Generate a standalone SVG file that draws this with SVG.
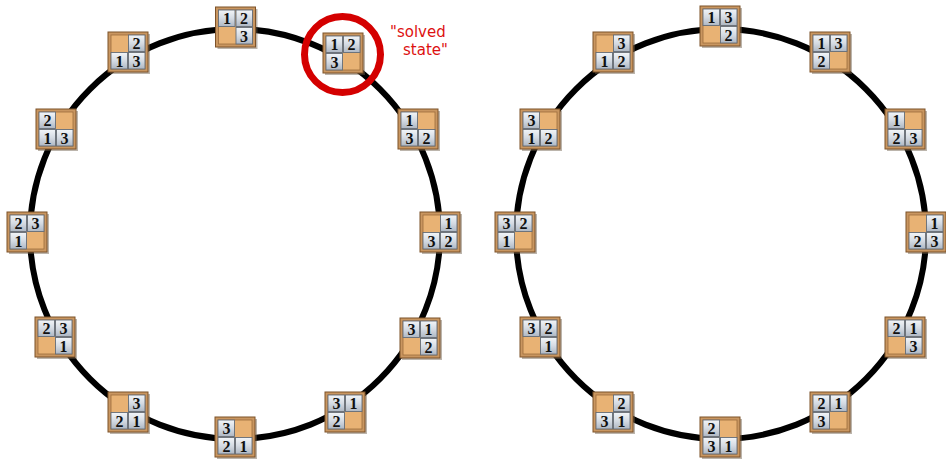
<svg xmlns="http://www.w3.org/2000/svg" xmlns:xlink="http://www.w3.org/1999/xlink" width="946" height="459" viewBox="0 0 946 459">
<style>
.ring{fill:none;stroke:#000;stroke-width:6}
.num{font-family:"Liberation Serif","DejaVu Serif",serif;font-size:16px;font-weight:bold;fill:#111;text-anchor:middle}
.lbl{font-family:"DejaVu Sans","Noto Sans",sans-serif;font-size:15px;fill:#dd1111}
</style>
<defs>
<linearGradient id="cg" x1="0" y1="0" x2="0" y2="1">
<stop offset="0" stop-color="#f2f5f8"/>
<stop offset="0.5" stop-color="#d5dbe3"/>
<stop offset="1" stop-color="#aeb7c3"/>
</linearGradient>
<g id="frame">
<rect x="-18" y="-18" width="40" height="40" fill="#6b5a48" opacity="0.45"/>
<rect x="-20" y="-20" width="40" height="40" fill="#c99660" stroke="#7d5229" stroke-width="1"/>
<rect x="-17" y="-17" width="34" height="34" fill="#e8b274" stroke="#9c6c3c" stroke-width="0.8"/>
</g>
<rect id="cell" width="16.5" height="16.5" fill="url(#cg)" stroke="#646d78" stroke-width="0.9"/>
</defs>

<g id="connectors">
<circle class="ring" cx="235" cy="234" r="205"/>
<circle class="ring" cx="721" cy="234" r="205"/>
</g>

<!-- left ring -->
<g id="L0" transform="translate(235.5,27)"><use href="#frame"/><use href="#cell" x="-17" y="-17"/><use href="#cell" x="0.5" y="-17"/><use href="#cell" x="0.5" y="0.5"/><text class="num" x="-8.5" y="-3">1</text><text class="num" x="8.5" y="-3">2</text><text class="num" x="8.5" y="14.5">3</text></g>
<g id="L1" transform="translate(343,53)"><use href="#frame"/><use href="#cell" x="-17" y="-17"/><use href="#cell" x="0.5" y="-17"/><use href="#cell" x="-17" y="0.5"/><text class="num" x="-8.5" y="-3">1</text><text class="num" x="8.5" y="-3">2</text><text class="num" x="-8.5" y="14.5">3</text></g>
<g id="L2" transform="translate(418,129)"><use href="#frame"/><use href="#cell" x="-17" y="-17"/><use href="#cell" x="-17" y="0.5"/><use href="#cell" x="0.5" y="0.5"/><text class="num" x="-8.5" y="-3">1</text><text class="num" x="-8.5" y="14.5">3</text><text class="num" x="8.5" y="14.5">2</text></g>
<g id="L3" transform="translate(440,232)"><use href="#frame"/><use href="#cell" x="0.5" y="-17"/><use href="#cell" x="-17" y="0.5"/><use href="#cell" x="0.5" y="0.5"/><text class="num" x="8.5" y="-3">1</text><text class="num" x="-8.5" y="14.5">3</text><text class="num" x="8.5" y="14.5">2</text></g>
<g id="L4" transform="translate(420,338)"><use href="#frame"/><use href="#cell" x="-17" y="-17"/><use href="#cell" x="0.5" y="-17"/><use href="#cell" x="0.5" y="0.5"/><text class="num" x="-8.5" y="-3">3</text><text class="num" x="8.5" y="-3">1</text><text class="num" x="8.5" y="14.5">2</text></g>
<g id="L5" transform="translate(345,412)"><use href="#frame"/><use href="#cell" x="-17" y="-17"/><use href="#cell" x="0.5" y="-17"/><use href="#cell" x="-17" y="0.5"/><text class="num" x="-8.5" y="-3">3</text><text class="num" x="8.5" y="-3">1</text><text class="num" x="-8.5" y="14.5">2</text></g>
<g id="L6" transform="translate(235,437)"><use href="#frame"/><use href="#cell" x="-17" y="-17"/><use href="#cell" x="-17" y="0.5"/><use href="#cell" x="0.5" y="0.5"/><text class="num" x="-8.5" y="-3">3</text><text class="num" x="-8.5" y="14.5">2</text><text class="num" x="8.5" y="14.5">1</text></g>
<g id="L7" transform="translate(128,412)"><use href="#frame"/><use href="#cell" x="0.5" y="-17"/><use href="#cell" x="-17" y="0.5"/><use href="#cell" x="0.5" y="0.5"/><text class="num" x="8.5" y="-3">3</text><text class="num" x="-8.5" y="14.5">2</text><text class="num" x="8.5" y="14.5">1</text></g>
<g id="L8" transform="translate(55,337)"><use href="#frame"/><use href="#cell" x="-17" y="-17"/><use href="#cell" x="0.5" y="-17"/><use href="#cell" x="0.5" y="0.5"/><text class="num" x="-8.5" y="-3">2</text><text class="num" x="8.5" y="-3">3</text><text class="num" x="8.5" y="14.5">1</text></g>
<g id="L9" transform="translate(27,232)"><use href="#frame"/><use href="#cell" x="-17" y="-17"/><use href="#cell" x="0.5" y="-17"/><use href="#cell" x="-17" y="0.5"/><text class="num" x="-8.5" y="-3">2</text><text class="num" x="8.5" y="-3">3</text><text class="num" x="-8.5" y="14.5">1</text></g>
<g id="L10" transform="translate(56,129)"><use href="#frame"/><use href="#cell" x="-17" y="-17"/><use href="#cell" x="-17" y="0.5"/><use href="#cell" x="0.5" y="0.5"/><text class="num" x="-8.5" y="-3">2</text><text class="num" x="-8.5" y="14.5">1</text><text class="num" x="8.5" y="14.5">3</text></g>
<g id="L11" transform="translate(128,52)"><use href="#frame"/><use href="#cell" x="0.5" y="-17"/><use href="#cell" x="-17" y="0.5"/><use href="#cell" x="0.5" y="0.5"/><text class="num" x="8.5" y="-3">2</text><text class="num" x="-8.5" y="14.5">1</text><text class="num" x="8.5" y="14.5">3</text></g>

<!-- right ring -->
<g id="R0" transform="translate(720,26)"><use href="#frame"/><use href="#cell" x="-17" y="-17"/><use href="#cell" x="0.5" y="-17"/><use href="#cell" x="0.5" y="0.5"/><text class="num" x="-8.5" y="-3">1</text><text class="num" x="8.5" y="-3">3</text><text class="num" x="8.5" y="14.5">2</text></g>
<g id="R1" transform="translate(830,52)"><use href="#frame"/><use href="#cell" x="-17" y="-17"/><use href="#cell" x="0.5" y="-17"/><use href="#cell" x="-17" y="0.5"/><text class="num" x="-8.5" y="-3">1</text><text class="num" x="8.5" y="-3">3</text><text class="num" x="-8.5" y="14.5">2</text></g>
<g id="R2" transform="translate(905,129)"><use href="#frame"/><use href="#cell" x="-17" y="-17"/><use href="#cell" x="-17" y="0.5"/><use href="#cell" x="0.5" y="0.5"/><text class="num" x="-8.5" y="-3">1</text><text class="num" x="-8.5" y="14.5">2</text><text class="num" x="8.5" y="14.5">3</text></g>
<g id="R3" transform="translate(926,232)"><use href="#frame"/><use href="#cell" x="0.5" y="-17"/><use href="#cell" x="-17" y="0.5"/><use href="#cell" x="0.5" y="0.5"/><text class="num" x="8.5" y="-3">1</text><text class="num" x="-8.5" y="14.5">2</text><text class="num" x="8.5" y="14.5">3</text></g>
<g id="R4" transform="translate(905,337)"><use href="#frame"/><use href="#cell" x="-17" y="-17"/><use href="#cell" x="0.5" y="-17"/><use href="#cell" x="0.5" y="0.5"/><text class="num" x="-8.5" y="-3">2</text><text class="num" x="8.5" y="-3">1</text><text class="num" x="8.5" y="14.5">3</text></g>
<g id="R5" transform="translate(830,412)"><use href="#frame"/><use href="#cell" x="-17" y="-17"/><use href="#cell" x="0.5" y="-17"/><use href="#cell" x="-17" y="0.5"/><text class="num" x="-8.5" y="-3">2</text><text class="num" x="8.5" y="-3">1</text><text class="num" x="-8.5" y="14.5">3</text></g>
<g id="R6" transform="translate(720,437)"><use href="#frame"/><use href="#cell" x="-17" y="-17"/><use href="#cell" x="-17" y="0.5"/><use href="#cell" x="0.5" y="0.5"/><text class="num" x="-8.5" y="-3">2</text><text class="num" x="-8.5" y="14.5">3</text><text class="num" x="8.5" y="14.5">1</text></g>
<g id="R7" transform="translate(613,412)"><use href="#frame"/><use href="#cell" x="0.5" y="-17"/><use href="#cell" x="-17" y="0.5"/><use href="#cell" x="0.5" y="0.5"/><text class="num" x="8.5" y="-3">2</text><text class="num" x="-8.5" y="14.5">3</text><text class="num" x="8.5" y="14.5">1</text></g>
<g id="R8" transform="translate(540,337)"><use href="#frame"/><use href="#cell" x="-17" y="-17"/><use href="#cell" x="0.5" y="-17"/><use href="#cell" x="0.5" y="0.5"/><text class="num" x="-8.5" y="-3">3</text><text class="num" x="8.5" y="-3">2</text><text class="num" x="8.5" y="14.5">1</text></g>
<g id="R9" transform="translate(515,232)"><use href="#frame"/><use href="#cell" x="-17" y="-17"/><use href="#cell" x="0.5" y="-17"/><use href="#cell" x="-17" y="0.5"/><text class="num" x="-8.5" y="-3">3</text><text class="num" x="8.5" y="-3">2</text><text class="num" x="-8.5" y="14.5">1</text></g>
<g id="R10" transform="translate(540,129)"><use href="#frame"/><use href="#cell" x="-17" y="-17"/><use href="#cell" x="-17" y="0.5"/><use href="#cell" x="0.5" y="0.5"/><text class="num" x="-8.5" y="-3">3</text><text class="num" x="-8.5" y="14.5">1</text><text class="num" x="8.5" y="14.5">2</text></g>
<g id="R11" transform="translate(613,52)"><use href="#frame"/><use href="#cell" x="0.5" y="-17"/><use href="#cell" x="-17" y="0.5"/><use href="#cell" x="0.5" y="0.5"/><text class="num" x="8.5" y="-3">3</text><text class="num" x="-8.5" y="14.5">1</text><text class="num" x="8.5" y="14.5">2</text></g>

<g id="highlight">
<circle cx="342.5" cy="54.5" r="38" fill="none" stroke="#d40000" stroke-width="7"/>
<text class="lbl" x="390" y="37">"solved</text>
<text class="lbl" x="403" y="54.5">state"</text>
</g>
</svg>
